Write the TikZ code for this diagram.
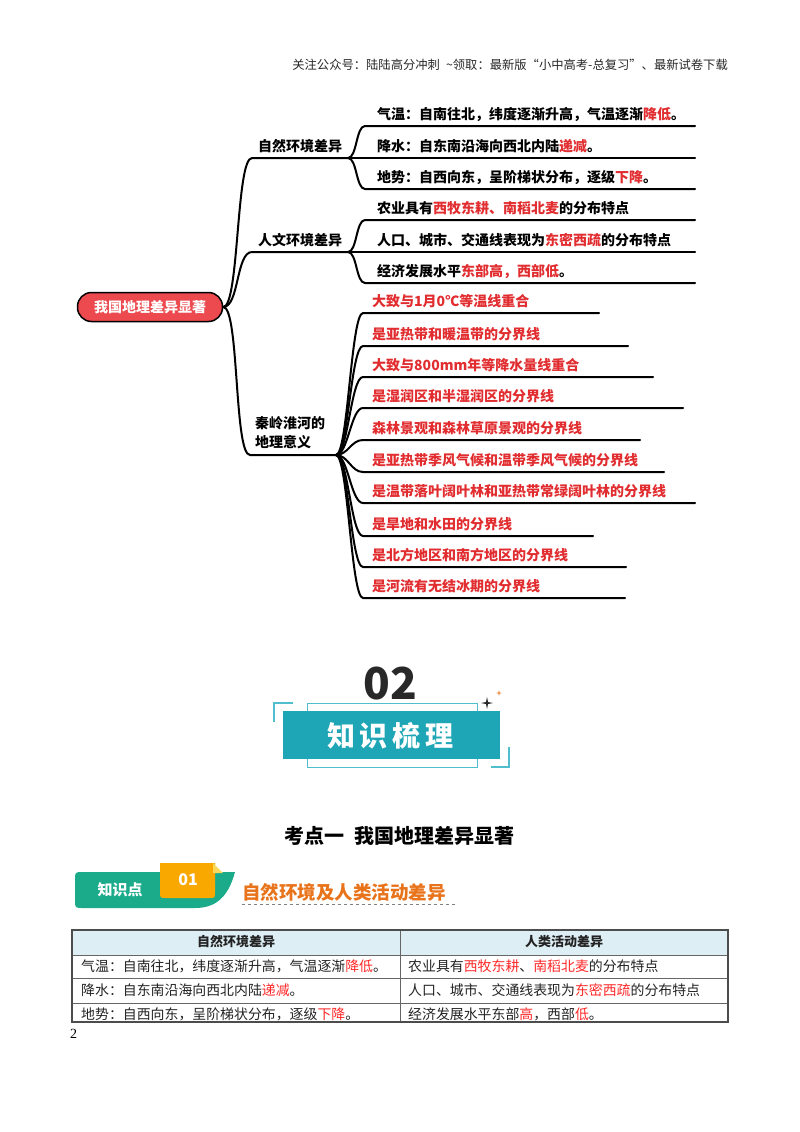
\documentclass[tikz,border=0pt]{standalone}
\usepackage{fontspec}
\setmainfont{Noto Sans CJK SC}
\newfontfamily\serifnum{Liberation Serif}
\usetikzlibrary{calc}
\definecolor{mred}{RGB}{226,45,48}
\definecolor{rootred}{RGB}{236,74,78}
\definecolor{hdr}{RGB}{40,40,40}
\definecolor{tealfill}{RGB}{30,166,182}
\definecolor{teallight}{RGB}{80,190,204}
\definecolor{kgreen}{RGB}{27,170,138}
\definecolor{korange}{RGB}{249,168,0}
\definecolor{kfold}{RGB}{252,215,90}
\definecolor{ttlorange}{RGB}{232,115,26}
\definecolor{hdrblue}{RGB}{221,238,244}
\definecolor{tred}{RGB}{255,40,40}
\definecolor{tgray}{RGB}{35,35,35}
\newcommand\myfs[2]{\fontsize{#1}{#2}\selectfont}
\begin{document}
\begin{tikzpicture}[x=1pt,y=-1pt,
  mline/.style={line width=2pt,line cap=round},
  mtext/.style={inner sep=0pt,anchor=base west,font=\bfseries\myfs{14}{17}},
  rtext/.style={mtext,text=mred},
  ttext/.style={inner sep=0pt,anchor=base west,font=\myfs{13.9}{16},text=tgray},
  thead/.style={inner sep=0pt,font=\bfseries\myfs{13}{16},text=tgray}]
\fill[white] (0,0) rectangle (800,1132);
\path[use as bounding box] (0,0) rectangle (800,1132);

% header
\node[anchor=base east,inner sep=0pt,font=\myfs{12.3}{14},text=hdr] (hdrtext) at (728,70) {关注公众号：陆陆高分冲刺\enspace\textasciitilde 领取：最新版“小中高考-总复习”、最新试卷下载};

% root
\node[draw=black,line width=1.5pt,fill=rootred,rounded corners=14pt,minimum width=145pt,minimum height=29pt,inner sep=0pt,text=white,font=\bfseries\myfs{14}{17}] (root) at (150,307) {我国地理差异显著};

% branch 1
\coordinate (s1) at (252,158); \coordinate (h1) at (348,158);
\node[mtext] (b1) at (258,151.5) {自然环境差异};
\draw[mline] (root.east) .. controls +(16,0) and +(-16,0) .. (s1) -- (h1);
\foreach \i/\y/\t in {1/126/{气温：自南往北，纬度逐渐升高，气温逐渐\textcolor{mred}{降低}。},
                     2/158/{降水：自东南沿海向西北内陆\textcolor{mred}{递减}。},
                     3/189/{地势：自西向东，呈阶梯状分布，逐级\textcolor{mred}{下降}。}}{
  \coordinate (a1\i) at (365,\y); \coordinate (e1\i) at (695,\y);
  \draw[mline] (h1) .. controls +(9,0) and +(-9,0) .. (a1\i) -- (e1\i);
  \node[mtext] (l1\i) at (377,\y-6.5) {\t};
}

% branch 2
\coordinate (s2) at (252,252); \coordinate (h2) at (348,252);
\node[mtext] (b2) at (258,245.5) {人文环境差异};
\draw[mline] (root.east) .. controls +(16,0) and +(-16,0) .. (s2) -- (h2);
\foreach \i/\y/\t in {1/220/{农业具有\textcolor{mred}{西牧东耕、南稻北麦}的分布特点},
                     2/252/{人口、城市、交通线表现为\textcolor{mred}{东密西疏}的分布特点},
                     3/283/{经济发展水平\textcolor{mred}{东部高，西部低}。}}{
  \coordinate (a2\i) at (365,\y); \coordinate (e2\i) at (695,\y);
  \draw[mline] (h2) .. controls +(9,0) and +(-9,0) .. (a2\i) -- (e2\i);
  \node[mtext] (l2\i) at (377,\y-6.5) {\t};
}

% branch 3
\coordinate (s3) at (250,455); \coordinate (h3) at (336,455);
\node[inner sep=0pt,anchor=north west,align=left,font=\bfseries\myfs{14}{19}] (b3) at (255,416) {秦岭淮河的\\地理意义};
\draw[mline] (root.east) .. controls +(16,0) and +(-16,0) .. (s3) -- (h3);
\foreach \i/\y/\xe/\t in {1/313/599/{大致与1月0℃等温线重合},
                         2/346/628/{是亚热带和暖温带的分界线},
                         3/377/653/{大致与800mm年等降水量线重合},
                         4/408/683/{是湿润区和半湿润区的分界线},
                         5/440/640/{森林景观和森林草原景观的分界线},
                         6/472/664/{是亚热带季风气候和温带季风气候的分界线},
                         7/503/695/{是温带落叶阔叶林和亚热带常绿阔叶林的分界线},
                         8/536/593/{是旱地和水田的分界线},
                         9/567/626/{是北方地区和南方地区的分界线},
                         10/598/625/{是河流有无结冰期的分界线}}{
  \coordinate (a3\i) at (363,\y); \coordinate (e3\i) at (\xe,\y);
  \draw[mline] (h3) .. controls +(12,0) and +(-12,0) .. (a3\i) -- (e3\i);
  \node[rtext] (l3\i) at (372,\y-6.5) {\t};
}

% 02 banner
\node[inner sep=0pt,font=\bfseries\myfs{44}{48},text=hdr] (num) at (390,684) {02};
\draw[teallight,line width=1pt] (307,703) rectangle (477,767);
\fill[tealfill] (283,711) rectangle (500,759);
\draw[teallight,line width=1.6pt] (274,722) -- (274,703) -- (293,703);
\draw[teallight,line width=1.6pt] (491,767) -- (509,767) -- (509,747);
\fill[hdr] (487,697) -- (488,702) -- (493,703) -- (488,704) -- (487,709) -- (486,704) -- (481,703) -- (486,702) -- cycle;
\fill[ttlorange] (499,690) -- (499.5,692.5) -- (502,693) -- (499.5,693.5) -- (499,696) -- (498.5,693.5) -- (496,693) -- (498.5,692.5) -- cycle;
\node[inner sep=0pt,text=white,font=\bfseries\myfs{28}{30}] (zs) at (390,736) {知\,识\,梳\,理};

% title
\node[inner sep=0pt,font=\bfseries\myfs{20}{24},text=black] (kd) at (399,836) {考点一\enspace 我国地理差异显著};

% knowledge tag
\fill[kgreen] (83,872) -- (235,872) .. controls (228,898) and (215,908) .. (195,908) -- (83,908) .. controls (75,908) .. (75,900) -- (75,880) .. controls (75,872) .. (83,872) -- cycle;
\fill[korange] (160,863) -- (215,863) -- (215,892) .. controls (215,898) .. (209,898) -- (166,898) .. controls (160,898) .. (160,892) -- cycle;
\fill[kfold] (213,863) -- (223,873) -- (213,873) -- cycle;
\node[inner sep=0pt,text=white,font=\bfseries\myfs{15}{17}] (zsd) at (120,890) {知识点};
\node[inner sep=0pt,text=white,font=\bfseries\myfs{16}{18}] (n01) at (188,880) {01};
\node[inner sep=0pt,anchor=base west,text=ttlorange,font=\bfseries\myfs{18.5}{20}] (sub) at (242,899) {自然环境及人类活动差异};
\draw[gray,dashed,line width=0.8pt] (sub.south west) ++(0,3) -- ++(214,0);

% table
\fill[hdrblue] (72,930) rectangle (728,955);
\draw[gray!80!black,line width=0.8pt] (72,955) -- (728,955) (72,978) -- (728,978) (72,1003) -- (728,1003) (400,930) -- (400,1022);
\draw[gray!60!black,line width=1.4pt] (72,930) rectangle (728,1022);
\node[thead] (th1) at (236,942) {自然环境差异};
\node[thead] (th2) at (564,942) {人类活动差异};
\node[ttext] (t11) at (81,971) {气温：自南往北，纬度逐渐升高，气温逐渐\textcolor{tred}{降低}。};
\node[ttext] (t21) at (81,995) {降水：自东南沿海向西北内陆\textcolor{tred}{递减}。};
\node[ttext] (t31) at (81,1019) {地势：自西向东，呈阶梯状分布，逐级\textcolor{tred}{下降}。};
\node[ttext] (t12) at (408,971) {农业具有\textcolor{tred}{西牧东耕}、\textcolor{tred}{南稻北麦}的分布特点};
\node[ttext] (t22) at (408,995) {人口、城市、交通线表现为\textcolor{tred}{东密西疏}的分布特点};
\node[ttext] (t32) at (408,1019) {经济发展水平东部\textcolor{tred}{高}，西部\textcolor{tred}{低}。};
\node[inner sep=0pt,anchor=base west,font=\serifnum\myfs{14}{16}] (pg) at (70,1038) {2};
\end{tikzpicture}
\end{document}
